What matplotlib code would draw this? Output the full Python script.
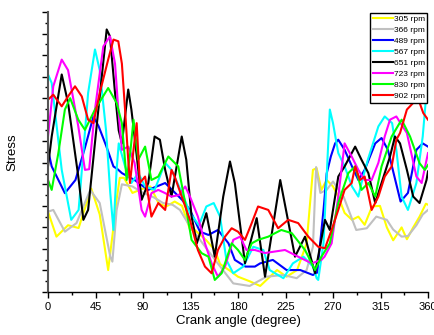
import matplotlib
matplotlib.use("Agg")
import matplotlib.pyplot as plt
from matplotlib.ticker import MultipleLocator

plt.rcParams['font.family'] = ['Liberation Sans', 'DejaVu Sans']

# crank angle (deg) / stress (arbitrary units)
a305 = [0, 8, 19, 29, 41, 49, 57, 62, 65, 68, 72, 80, 90, 97, 105, 112, 120, 127, 134.5, 139, 150, 158, 163, 172, 180,
        191, 201, 207, 217, 226, 236, 245, 251, 254.5, 259, 264, 270, 275, 281, 288, 294, 300, 307, 314.5, 321, 327,
        335, 340, 346, 352, 358, 360]
v305 = [3.73, 2.57, 3.1, 2.97, 4.8, 3.6, 1.02, 3.0, 4.3, 5.3, 5.3, 4.6, 4.8, 4.9, 4.1, 3.97, 4.2, 4.0, 2.9, 2.88, 2.4,
        1.95, 1.3, 1.0, 0.71, 0.5, 0.28, 0.56, 1.02, 0.71, 1.02, 2.26, 5.67, 5.75, 4.74, 5.2, 4.9, 4.43, 3.67, 3.35,
        3.5, 3.12, 3.97, 4.0, 3.0, 2.4, 3.0, 2.45, 3.0, 3.5, 4.1, 4.05]

a366 = [0, 5, 16, 27, 40, 49, 59, 61, 65, 70, 80, 90, 100, 109, 118, 125, 134.5, 144, 156, 166, 175.5, 191, 207, 223,
        235.6, 245, 251, 254, 258, 264, 270, 280, 292, 302, 311, 321, 327, 335, 341, 349, 355, 360]
v366 = [3.73, 3.81, 2.8, 3.2, 4.74, 4.13, 1.64, 1.41, 3.8, 5.0, 4.9, 4.6, 4.4, 4.13, 4.05, 3.81, 3.04, 2.42, 1.64, 1.0,
        0.4, 0.28, 0.71, 0.79, 0.64, 1.02, 2.1, 5.8, 4.6, 4.74, 5.13, 4.43, 2.88, 2.96, 3.5, 3.35, 2.9, 2.57, 2.6,
        3.1, 3.6, 3.81]

a489 = [0, 3.5, 16, 26, 35, 43, 48, 55, 62, 66, 70, 82, 95, 111, 127, 134.5, 144, 152, 161, 171, 177, 187, 196, 201,
        213, 226, 239, 251, 255, 261, 264, 268, 272, 275, 281, 288, 294, 300, 310, 316, 322, 329, 334, 341, 349, 355,
        360]
v489 = [6.6, 5.83, 4.59, 5.2, 6.7, 8.15, 7.69, 6.8, 5.83, 5.7, 5.52, 5.2, 4.74, 5.06, 4.28, 3.81, 2.8, 2.65, 2.88, 2.26,
        1.49, 1.18, 1.18, 1.33, 1.49, 1.02, 1.02, 0.79, 0.9, 3.8, 5.5, 6.3, 6.9, 7.07, 6.6, 5.83, 5.2, 5.67, 6.9,
        7.15, 6.6, 5.2, 4.2, 4.6, 6.6, 6.9, 6.75]

a567 = [0, 3.5, 13, 22, 29, 38, 44.5, 49, 55, 59, 62, 65, 67, 73, 79, 85.5, 92, 101, 111, 117, 127, 134.5, 143, 150,
        157, 163, 169, 175.5, 185, 194.5, 204, 210, 223, 232, 242, 251, 254.5, 256, 261, 264, 267, 270, 275, 281, 288,
        294, 297, 303, 313, 319, 326, 330, 335, 341, 349, 355, 360]
v567 = [10.1, 9.7, 5.67, 3.35, 3.81, 9.24, 11.26, 10.3, 7.5, 4.59, 2.88, 5.67, 6.9, 5.83, 5.06, 5.52, 4.9, 4.74, 6.0,
        5.67, 4.59, 3.67, 3.1, 3.97, 4.13, 3.5, 1.49, 0.87, 1.18, 2.1, 1.95, 1.02, 0.64, 1.33, 1.64, 1.18, 0.64, 0.56,
        2.26, 5.36, 8.47, 7.84, 6.45, 5.83, 4.9, 4.43, 5.06, 6.14, 7.69, 8.15, 7.84, 6.6, 4.43, 3.81, 5.06, 7.22, 10.1]

a651 = [0, 3.5, 13, 19, 28.7, 33.5, 38, 47.7, 55.6, 58.7, 63.5, 67, 70, 76, 79, 82, 88.7, 95, 101, 106, 111, 117,
        126.7, 131, 136, 141, 150, 158, 166, 172.4, 177, 186.6, 197.7, 205.6, 220, 234, 243.5, 253, 262.4, 267, 275,
        281, 291, 297, 303.5, 310, 316, 324, 328.7, 333.5, 340, 346, 352, 358.6, 360]
v651 = [5.83, 7.22, 10.1, 8.78, 5.36, 3.35, 3.81, 8.47, 12.19, 11.87, 9.24, 7.5, 6.9, 9.4, 8.47, 7.22, 4.28, 5.06, 7.22,
        7.07, 5.67, 4.43, 7.22, 6.14, 3.5, 2.26, 3.66, 1.64, 4.43, 6.06, 5.06, 1.33, 3.43, 0.71, 5.2, 1.64, 2.57, 0.87,
        3.35, 2.88, 5.36, 5.83, 6.75, 6.14, 5.52, 4.13, 5.06, 6.29, 7.22, 6.9, 5.67, 4.43, 4.13, 5.2, 5.6]

a723 = [0, 5, 13, 19, 28.7, 35, 39, 44.5, 52.4, 58.7, 63.5, 66.6, 70, 76, 82, 88.7, 92, 98, 104.5, 111, 117, 124, 130,
        134.5, 142, 148.7, 155, 161, 167.7, 175.5, 182, 188, 196, 205.6, 224.5, 237, 249.8, 259, 262, 268.7, 275, 281,
        287.7, 294, 300, 306.6, 313, 319, 324, 330, 340, 349, 354, 360]
v723 = [7.22, 9.55, 10.79, 10.3, 7.69, 5.67, 5.7, 8.47, 11.4, 11.87, 10.6, 8.47, 6.6, 6.75, 6.0, 3.81, 3.5, 4.59, 4.74,
        4.59, 4.43, 4.5, 4.9, 4.43, 3.5, 2.26, 1.33, 0.71, 1.18, 2.42, 2.57, 1.95, 1.95, 1.81, 1.95, 1.64, 1.33, 1.49,
        1.64, 2.26, 4.43, 6.9, 6.29, 5.67, 5.2, 5.2, 6.0, 7.22, 8.0, 8.15, 7.38, 5.36, 5.06, 6.45]

a830 = [0, 3.5, 9.8, 16, 21, 28.7, 35, 44.5, 57, 65, 70, 74.5, 78, 81, 85.5, 92, 98, 104.5, 114, 123.4, 130, 136,
        145.6, 152, 158, 164.5, 174, 180, 186.6, 193, 199, 208.7, 221, 231, 243.5, 253, 259, 267, 275, 284.5, 291, 297,
        303.5, 310, 316, 325.6, 335, 343, 352, 357, 360]
v830 = [5.2, 4.74, 6.45, 8.47, 9.0, 8.0, 7.53, 8.47, 9.47, 8.78, 7.84, 5.2, 6.5, 8.0, 6.14, 6.75, 5.2, 5.36, 6.29, 5.83,
        4.13, 2.42, 1.8, 1.64, 0.56, 0.87, 2.26, 1.95, 1.49, 2.26, 2.42, 2.57, 2.88, 2.73, 1.95, 1.02, 1.64, 2.26, 4.13,
        5.52, 5.83, 4.74, 5.06, 4.43, 5.83, 7.22, 8.0, 7.22, 5.98, 5.67, 5.9]

a902 = [0, 5, 13, 19, 25.6, 32, 38, 43, 49, 57, 62, 66.6, 70, 73, 76, 77.7, 81, 84, 87, 92, 98, 104.5, 111, 117, 120,
        126.7, 134.5, 142, 148.7, 155, 161, 167.7, 174, 180, 186.6, 193, 199, 208.7, 218, 227.6, 237, 246.6, 256,
        262.4, 268.7, 275, 281, 287.7, 291, 295.6, 300, 306.6, 313, 319, 325.6, 330, 333.5, 340, 346, 351, 355.5, 360]
v902 = [8.93, 9.16, 8.62, 9.08, 9.55, 9.08, 8.0, 7.84, 9.24, 10.79, 11.72, 11.64, 10.6, 8.47, 6.14, 5.06, 6.6, 7.84,
        5.06, 5.36, 3.5, 4.13, 3.81, 5.67, 5.36, 4.43, 3.35, 1.95, 1.18, 0.87, 1.95, 2.57, 2.96, 2.8, 2.42, 3.2, 3.97,
        3.81, 2.96, 3.35, 3.2, 2.57, 2.1, 2.03, 2.88, 3.81, 4.74, 5.06, 5.83, 5.2, 5.36, 3.81, 4.43, 5.36, 5.83, 7.07,
        7.38, 8.47, 8.78, 8.93, 8.31, 8.0]

labels = ["305 rpm", "366 rpm", "489 rpm", "567 rpm", "651 rpm", "723 rpm", "830 rpm", "902 rpm"]
colors = ["#ffff00", "#c0c0c0", "#0000ff", "#00ffff", "#000000", "#ff00ff", "#00ff00", "#ff0000"]
angles = [a305, a366, a489, a567, a651, a723, a830, a902]
stresses = [v305, v366, v489, v567, v651, v723, v830, v902]

fig = plt.figure(figsize=(4.34, 3.35), dpi=100)
ax = fig.add_axes([48 / 434, 43 / 335, 380 / 434, 280 / 335])

for x, y, c, lab in zip(angles, stresses, colors, labels):
    ax.plot(x, y, color=c, lw=1.5, label=lab)

ax.set_xlim(0, 360)
ax.set_ylim(0, 13)
ax.xaxis.set_major_locator(MultipleLocator(45))
ax.xaxis.set_minor_locator(MultipleLocator(22.5))
ax.yaxis.set_major_locator(MultipleLocator(1))
ax.yaxis.set_minor_locator(MultipleLocator(0.5))
ax.set_yticklabels([])
ax.tick_params(which='major', direction='out', length=4, width=1, labelsize=8)
ax.tick_params(which='minor', direction='out', length=2.5, width=1)

for s in ['top', 'right']:
    ax.spines[s].set_visible(False)
ax.spines['left'].set_color('#555555')
ax.spines['left'].set_linewidth(1.5)
ax.spines['bottom'].set_linewidth(1)

ax.set_xlabel("Crank angle (degree)", fontsize=9.5, labelpad=2)
ax.set_ylabel("Stress", fontsize=9.5, labelpad=14)

leg = ax.legend(loc='upper right', fontsize=6, handlelength=2.4, handletextpad=0.1,
                labelspacing=0.38, borderpad=0.3, borderaxespad=0.1,
                fancybox=False, framealpha=1, edgecolor='black')
leg.get_frame().set_linewidth(1)

fig.savefig("out.png", dpi=100)
